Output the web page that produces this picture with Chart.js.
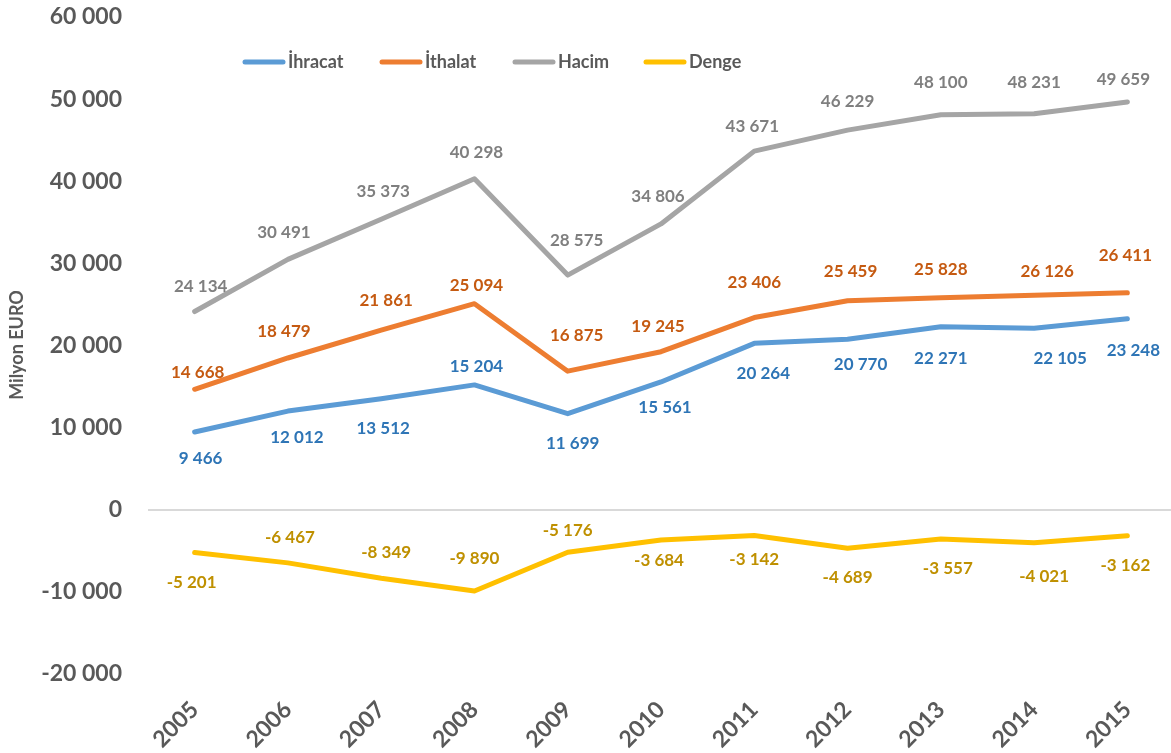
<!DOCTYPE html>
<html>
<head>
<meta charset="utf-8">
<script src="https://cdn.jsdelivr.net/npm/chart.js@4.4.0/dist/chart.umd.min.js"></script>
<style>
    html, body { margin: 0; padding: 0; background: #fff; overflow: hidden; }
    #wrap { position: relative; width: 1175px; height: 753px; }
</style>
</head>
<body>
<div id="wrap"><canvas id="chart"></canvas></div>
<script>
const years = ['2005', '2006', '2007', '2008', '2009', '2010', '2011', '2012', '2013', '2014', '2015'];
const ihracat = [9466, 12012, 13512, 15204, 11699, 15561, 20264, 20770, 22271, 22105, 23248];
const ithalat = [14668, 18479, 21861, 25094, 16875, 19245, 23406, 25459, 25828, 26126, 26411];
const hacim = [24134, 30491, 35373, 40298, 28575, 34806, 43671, 46229, 48100, 48231, 49659];
const denge = [-5201, -6467, -8349, -9890, -5176, -3684, -3142, -4689, -3557, -4021, -3162];

// label placement relative to each point (like excel's manual label positions)
const labelOffsets = {
    hacim:   { dx: [6, -4, 2, 2, 9, -3, -2, 0, 0, 0, -4], dy: [-25, -27, -28, -26, -35, -27, -25, -29, -32, -31, -22] },
    ithalat: { dx: [3, -4, 5, 2, 9, -3, 0, 3, 0, 13, -2], dy: [-17, -26, -30, -18, -36, -25, -35, -29, -28, -24, -37] },
    ihracat: { dx: [6, 9, 2, 2, 5, 4, 9, 13, 0, 26, 6], dy: [27, 26, 30, -18, 30, 26, 30, 25, 32, 30, 32] },
    denge:   { dx: [-3, 2, 5, 0, 0, -2, 0, 0, 7, 10, -2], dy: [30, -25, -26, -32, -22, 21, 24, 29, 30, 34, 30] }
};

const legendX = [243, 380, 513, 644];
const FONT = 'Lato, "Open Sans", sans-serif';
const AXIS_COLOR = '#595959';

function fmt(v) {
    const s = String(Math.abs(Math.round(v))).replace(/\B(?=(\d{3})+(?!\d))/g, ' ');
    return (v < 0 ? '-' : '') + s;
}

function makeSet(label, data, color, labelColor, key) {
    return {
        label: label,
        data: data,
        borderColor: color,
        backgroundColor: color,
        borderWidth: 5,
        pointRadius: 0,
        pointHoverRadius: 0,
        fill: false,
        tension: 0,
        borderCapStyle: 'round',
        borderJoinStyle: 'round',
        labelColor: labelColor,
        offsetKey: key
    };
}

const dataLabels = {
    id: 'dataLabels',
    afterDatasetsDraw(chart) {
        const ctx = chart.ctx;
        ctx.save();
        ctx.font = 'bold 17px ' + FONT;
        ctx.textAlign = 'center';
        ctx.textBaseline = 'middle';
        chart.data.datasets.forEach((ds, i) => {
            const meta = chart.getDatasetMeta(i);
            const off = labelOffsets[ds.offsetKey];
            ctx.fillStyle = ds.labelColor;
            meta.data.forEach((pt, j) => {
                ctx.fillText(fmt(ds.data[j]), pt.x + off.dx[j], pt.y + off.dy[j]);
            });
        });
        ctx.restore();
    }
};

const customLegend = {
    id: 'customLegend',
    afterDraw(chart) {
        const ctx = chart.ctx;
        ctx.save();
        ctx.font = 'bold 18px ' + FONT;
        ctx.textBaseline = 'middle';
        ctx.textAlign = 'left';
        chart.data.datasets.forEach((ds, i) => {
            const x = legendX[i];
            const y = 62;
            ctx.strokeStyle = ds.borderColor;
            ctx.lineWidth = 5;
            ctx.lineCap = 'round';
            ctx.beginPath();
            ctx.moveTo(x + 2, y);
            ctx.lineTo(x + 40, y);
            ctx.stroke();
            ctx.fillStyle = AXIS_COLOR;
            ctx.fillText(ds.label, x + 45, y);
        });
        // y axis title
        ctx.translate(17, 345);
        ctx.rotate(-Math.PI / 2);
        ctx.textAlign = 'center';
        ctx.font = 'bold 18px ' + FONT;
        ctx.fillText('Milyon EURO', 0, 0);
        ctx.restore();
    }
};

new Chart(document.getElementById('chart'), {
    type: 'line',
    data: {
        labels: years,
        datasets: [
            makeSet('İhracat', ihracat, '#5B9BD5', '#2E75B6', 'ihracat'),
            makeSet('İthalat', ithalat, '#ED7D31', '#C55A11', 'ithalat'),
            makeSet('Hacim', hacim, '#A5A5A5', '#7F7F7F', 'hacim'),
            makeSet('Denge', denge, '#FFC000', '#BF9000', 'denge')
        ]
    },
    options: {
        responsive: true,
        maintainAspectRatio: false,
        animation: false,
        layout: { padding: { top: 0, right: 1, left: 0, bottom: 0 } },
        plugins: {
            legend: { display: false },
            tooltip: { enabled: false }
        },
        scales: {
            x: {
                offset: true,
                grid: { display: false },
                border: { display: false },
                ticks: {
                    color: AXIS_COLOR,
                    font: { family: FONT, size: 23, weight: 'bold' },
                    maxRotation: 45,
                    minRotation: 45,
                    padding: 14
                },
                afterFit(scale) { scale.height = 79; }
            },
            y: {
                min: -20000,
                max: 60000,
                ticks: {
                    stepSize: 10000,
                    color: AXIS_COLOR,
                    font: { family: FONT, size: 23, weight: 'bold' },
                    padding: 26,
                    callback: (v) => fmt(v)
                },
                grid: {
                    drawTicks: false,
                    lineWidth: 2,
                    color: (c) => (c.tick && c.tick.value === 0 ? '#D9D9D9' : 'rgba(0,0,0,0)')
                },
                border: { display: false },
                afterFit(scale) {
                    scale.width = 148;
                    // tick padding would otherwise push the plot down
                    scale.paddingTop = 17;
                    scale.paddingBottom = 0;
                }
            }
        }
    },
    plugins: [dataLabels, customLegend]
});
</script>
</body>
</html>
